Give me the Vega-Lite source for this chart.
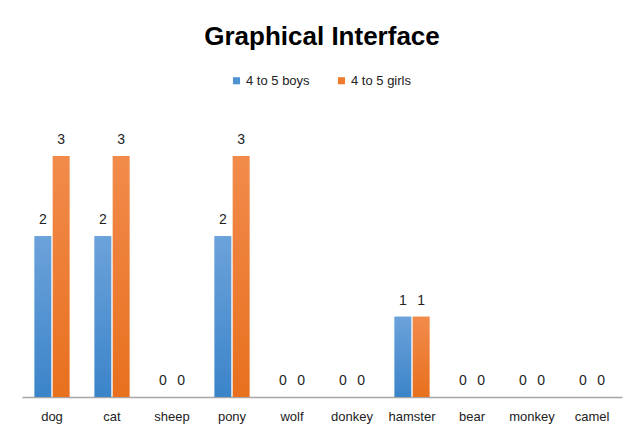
{
  "$schema": "https://vega.github.io/schema/vega-lite/v6.json",
  "autosize": {"type": "none"},
  "width": 600,
  "height": 241,
  "padding": {"left": 22, "top": 156, "right": 17, "bottom": 44},
  "background": "white",
  "title": {
    "text": "Graphical Interface",
    "font": "Liberation Sans",
    "fontSize": 26,
    "fontWeight": "bold",
    "color": "#000000",
    "anchor": "middle",
    "frame": "group",
    "offset": 24
  },
  "config": {
    "view": {"stroke": null},
    "font": "Liberation Sans"
  },
  "data": {
    "values": [
      {"animal": "dog", "group": "4 to 5 boys", "count": 2},
      {"animal": "dog", "group": "4 to 5 girls", "count": 3},
      {"animal": "cat", "group": "4 to 5 boys", "count": 2},
      {"animal": "cat", "group": "4 to 5 girls", "count": 3},
      {"animal": "sheep", "group": "4 to 5 boys", "count": 0},
      {"animal": "sheep", "group": "4 to 5 girls", "count": 0},
      {"animal": "pony", "group": "4 to 5 boys", "count": 2},
      {"animal": "pony", "group": "4 to 5 girls", "count": 3},
      {"animal": "wolf", "group": "4 to 5 boys", "count": 0},
      {"animal": "wolf", "group": "4 to 5 girls", "count": 0},
      {"animal": "donkey", "group": "4 to 5 boys", "count": 0},
      {"animal": "donkey", "group": "4 to 5 girls", "count": 0},
      {"animal": "hamster", "group": "4 to 5 boys", "count": 1},
      {"animal": "hamster", "group": "4 to 5 girls", "count": 1},
      {"animal": "bear", "group": "4 to 5 boys", "count": 0},
      {"animal": "bear", "group": "4 to 5 girls", "count": 0},
      {"animal": "monkey", "group": "4 to 5 boys", "count": 0},
      {"animal": "monkey", "group": "4 to 5 girls", "count": 0},
      {"animal": "camel", "group": "4 to 5 boys", "count": 0},
      {"animal": "camel", "group": "4 to 5 girls", "count": 0}
    ]
  },
  "encoding": {
    "x": {
      "field": "animal",
      "type": "nominal",
      "sort": null,
      "scale": {"paddingInner": 0.42, "paddingOuter": 0.21},
      "axis": {
        "title": null,
        "labelAngle": 0,
        "labelFont": "Liberation Sans",
        "labelFontSize": 13,
        "labelColor": "#222222",
        "labelPadding": 13,
        "ticks": false,
        "domainColor": "#a6a6a6",
        "domainWidth": 1.5,
        "grid": false
      }
    },
    "xOffset": {"field": "group", "type": "nominal", "scale": {"paddingInner": 0.09}},
    "y": {
      "field": "count",
      "type": "quantitative",
      "scale": {"domain": [0, 3], "nice": false},
      "axis": null
    }
  },
  "layer": [
    {
      "mark": {"type": "bar"},
      "encoding": {
        "color": {
          "field": "group",
          "type": "nominal",
          "scale": {"domain": ["4 to 5 boys", "4 to 5 girls"], "range": ["#5093d3", "#ee7b2e"]},
          "legend": {
            "title": null,
            "orient": "none",
            "direction": "horizontal",
            "legendX": 208,
            "legendY": -82,
            "symbolType": "square",
            "symbolSize": 50,
            "symbolStrokeWidth": 0,
            "labelFont": "Liberation Sans",
            "labelFontSize": 13,
            "labelColor": "#222222",
            "labelOffset": 3,
            "columnPadding": 25
          }
        }
      }
    },
    {
      "transform": [{"filter": "datum.group === '4 to 5 boys'"}],
      "mark": {
        "type": "bar",
        "color": {"gradient": "linear", "x1": 0, "y1": 0, "x2": 0, "y2": 1, "stops": [{"offset": 0, "color": "#6ca2da"}, {"offset": 1, "color": "#3b84c9"}]}
      }
    },
    {
      "transform": [{"filter": "datum.group === '4 to 5 girls'"}],
      "mark": {
        "type": "bar",
        "color": {"gradient": "linear", "x1": 0, "y1": 0, "x2": 0, "y2": 1, "stops": [{"offset": 0, "color": "#f18b4b"}, {"offset": 1, "color": "#e8701e"}]}
      }
    },
    {
      "mark": {"type": "text", "baseline": "bottom", "dy": -9, "font": "Liberation Sans", "fontSize": 14, "color": "#222222"},
      "encoding": {
        "text": {"field": "count", "type": "quantitative"}
      }
    }
  ]
}
